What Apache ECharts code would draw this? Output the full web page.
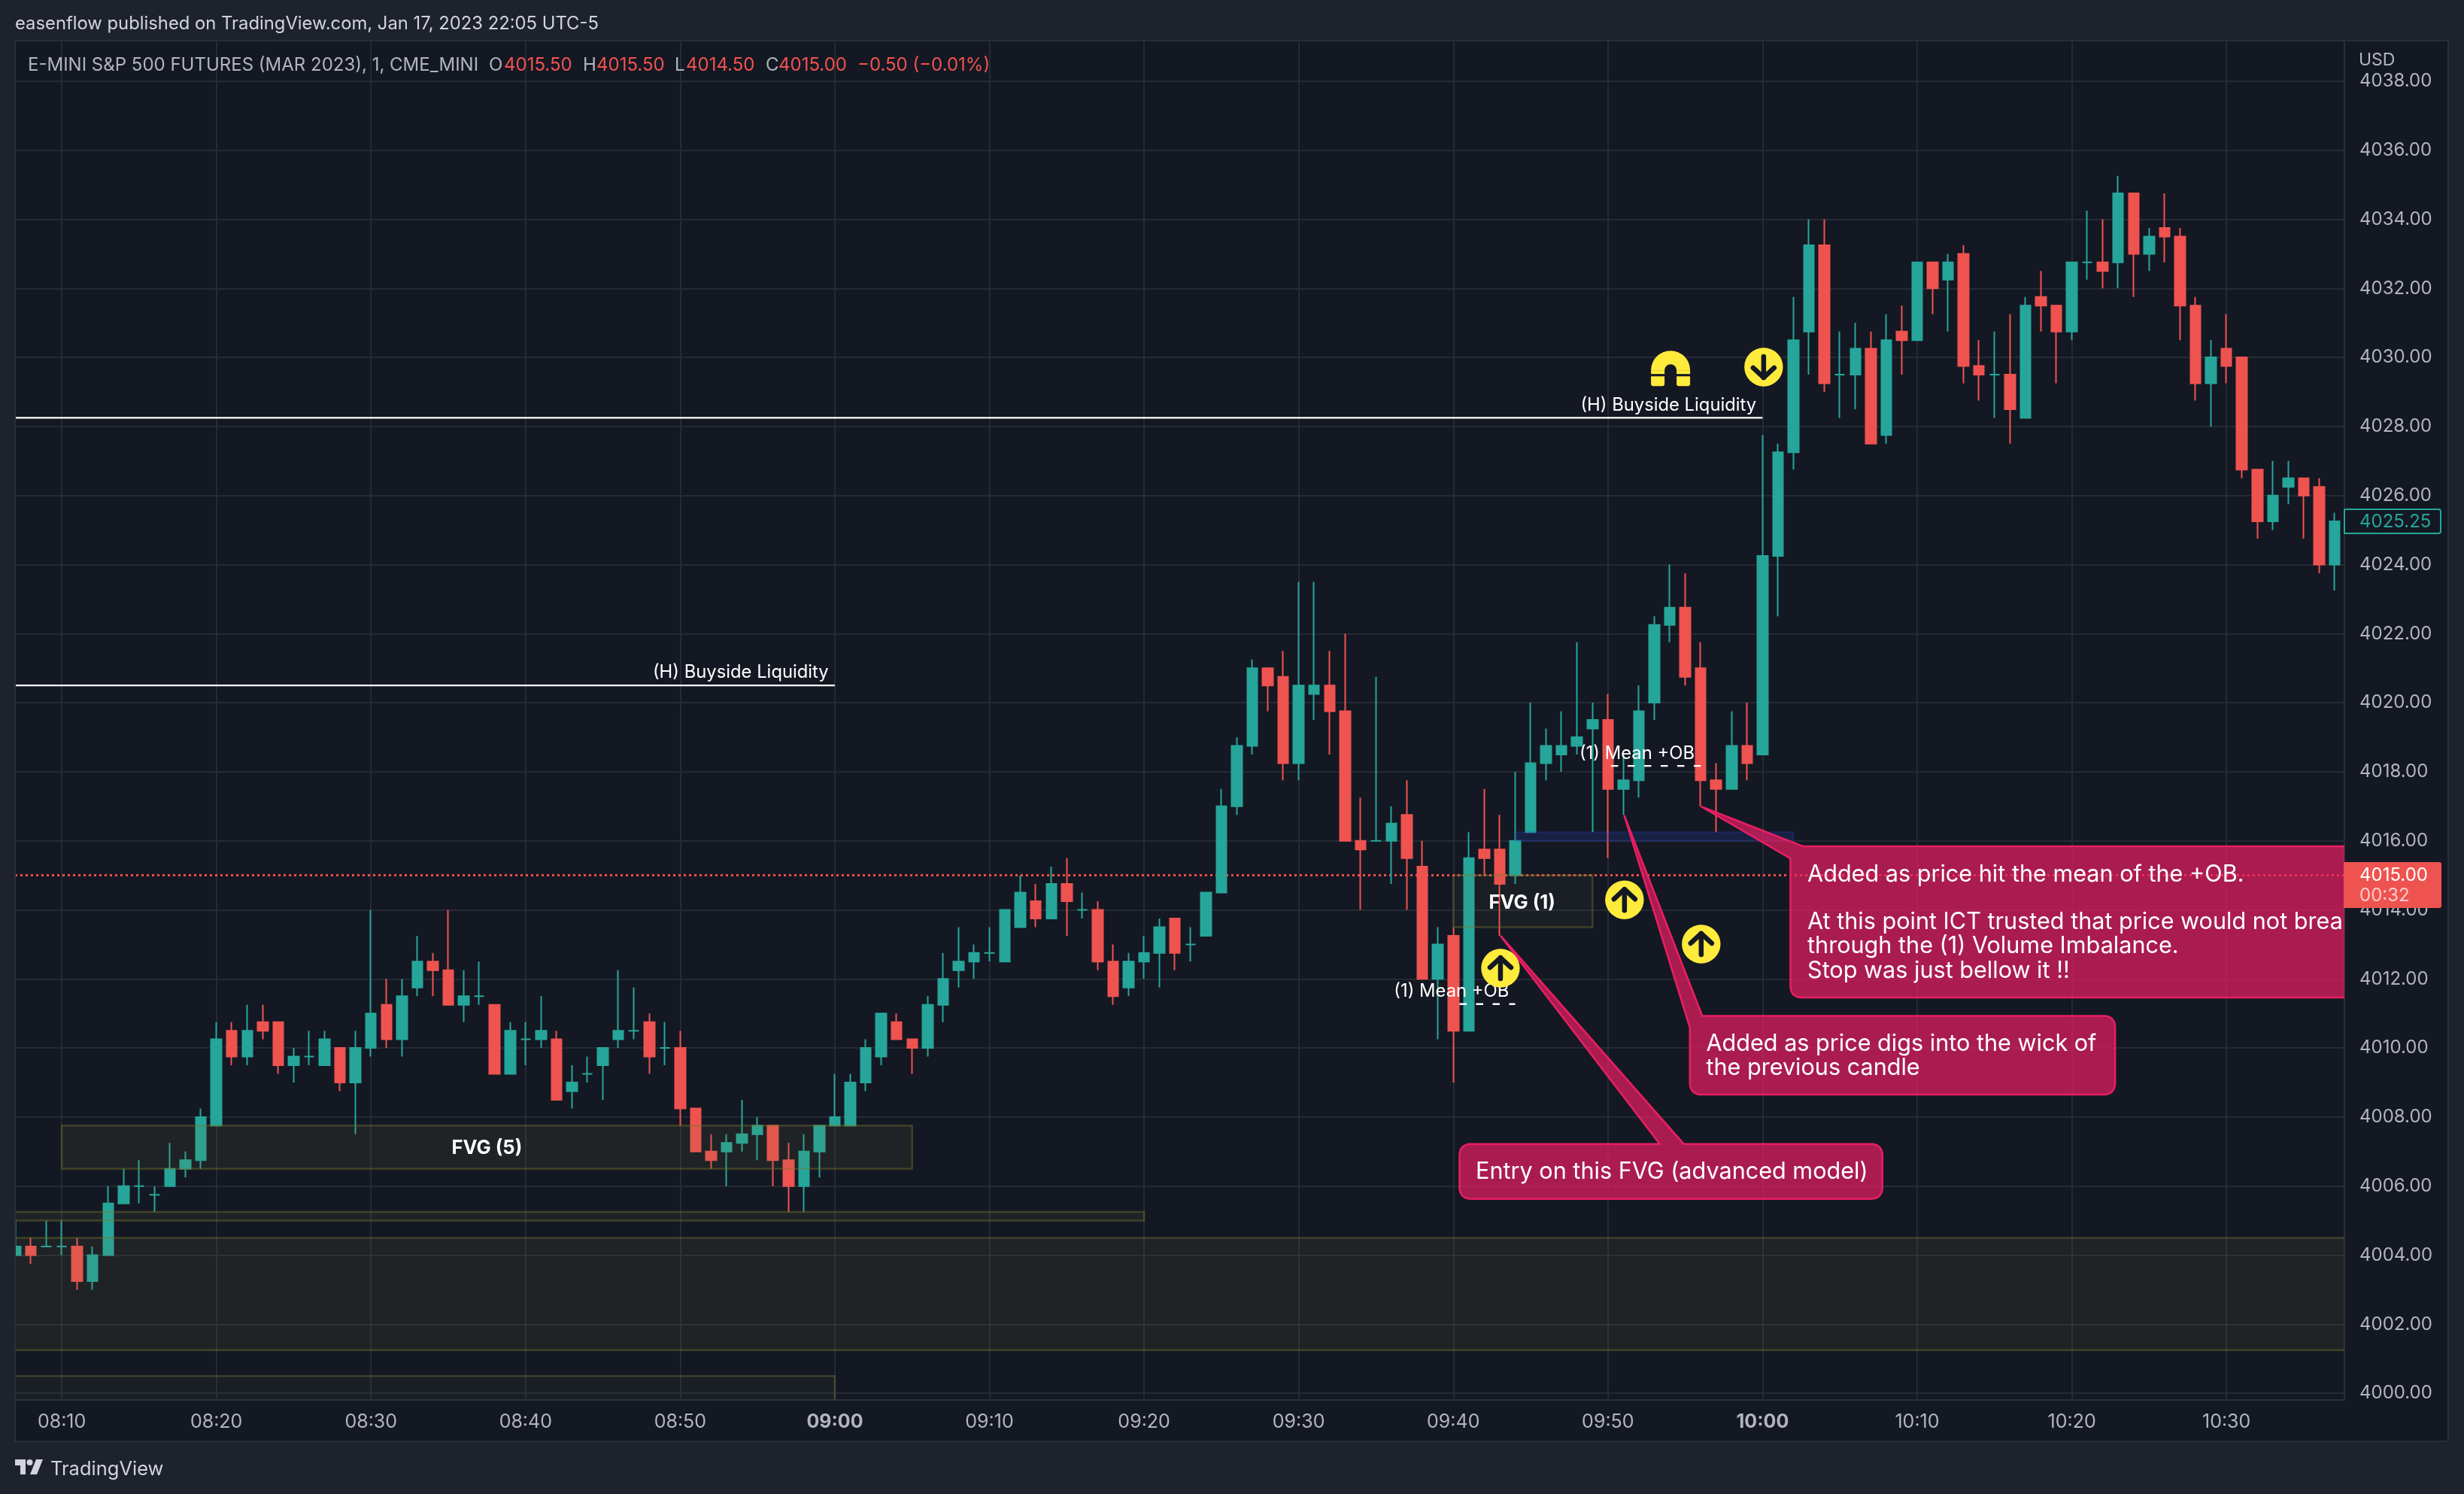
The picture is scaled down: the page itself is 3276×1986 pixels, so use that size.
<!DOCTYPE html>
<html>
<head>
<meta charset="utf-8">
<style>html,body{margin:0;padding:0;background:#1e222d}#c{width:3276px;height:1986px}</style>
<script src="https://cdn.jsdelivr.net/npm/echarts@6/dist/echarts.min.js"></script>
</head>
<body>
<div id="c"></div>
<script>
// Minutes after midnight of the first bar (08:07), one bar per minute.
const firstMinute = 487;
const opens = [4004,4004.25,4004.25,4004.25,4004.25,4003.25,4004,4005.5,4006,4005.75,4006,4006.5,4006.75,4007.75,4010.5,4009.75,4010.75,4010.75,4009.5,4009.75,4009.5,4010,4009,4010,4011.25,4010.25,4011.75,4012.5,4012.25,4011.25,4011.5,4011.25,4009.25,4010.25,4010.25,4010.25,4008.75,4009.25,4009.5,4010.25,4010.5,4010.75,4010,4010,4008.25,4007,4007,4007.25,4007.5,4007.75,4006.75,4006,4007,
4007.75,4007.75,4009,4009.75,4010.75,4010.25,4010,4011.25,4012.25,4012.5,4012.75,4012.5,4013.5,4014.25,4013.75,4014.75,4014,4014,4012.5,4011.75,4012.5,4012.75,4013.75,4013,4013.25,4014.5,4017,4018.75,4021,4020.75,4018.25,4020.25,4020.5,4019.75,4016,4016,4016,4016.75,4015.25,
4012,4013.25,4010.5,4015.75,4015.75,4015,4016.25,4018.25,4018.5,4018.75,4019.25,4019.5,4017.5,4017.75,4020,4022.25,4022.75,4021,4017.75,4017.5,4018.75,
4018.5,4024.25,4027.25,4030.75,4033.25,4029.5,4029.5,4030.25,4027.75,4030.75,4030.5,4032.75,4032.25,4033,4029.75,4029.5,4029.5,4028.25,4031.75,4031.5,4030.75,4032.75,4032.75,4032.75,4034.75,4033,4033.75,4033.5,4031.5,4029.25,4030.25,4030,4026.75,4025.25,4026.25,4026.5,4026.25,4024];
const closes = [4004.25,4004,4004.25,4004.25,4003.25,4004,4005.5,4006,4006,4005.75,4006.5,4006.75,4008,4010.25,4009.75,4010.5,4010.5,4009.5,4009.75,4009.75,4010.25,4009,4010,4011,4010.25,4011.5,4012.5,4012.25,4011.25,4011.5,4011.5,4009.25,4010.5,4010.25,4010.5,4008.5,4009,4009.25,4010,4010.5,4010.5,4009.75,4010,4008.25,4007,4006.75,4007.25,4007.5,4007.75,4006.75,4006,4007,4007.75,
4008,4009,4010,4011,4010.25,4010,4011.25,4012,4012.5,4012.75,4012.75,4014,4014.5,4013.75,4014.75,4014.25,4014,4012.5,4011.5,4012.5,4012.75,4013.5,4012.75,4013,4014.5,4017,4018.75,4021,4020.5,4018.25,4020.5,4020.5,4019.75,4016,4015.75,4016,4016.5,4015.5,4012,
4013,4010.5,4015.5,4015.5,4014.75,4016,4018.25,4018.75,4018.75,4019,4019.5,4017.5,4017.75,4019.75,4022.25,4022.75,4020.75,4017.75,4017.5,4018.75,4018.25,
4024.25,4027.25,4030.5,4033.25,4029.25,4029.5,4030.25,4027.5,4030.5,4030.5,4032.75,4032,4032.75,4029.75,4029.5,4029.5,4028.5,4031.5,4031.5,4030.75,4032.75,4032.75,4032.5,4034.75,4033,4033.5,4033.5,4031.5,4029.25,4030,4029.75,4026.75,4025.25,4026,4026.5,4026,4024,4025.25];
const highs = [4005,4004.5,4005,4005,4004.5,4004.25,4006,4006.5,4006.75,4006,4007.25,4007,4008.25,4010.75,4010.75,4011.25,4011.25,4010.75,4010,4010.5,4010.5,4010,4010.5,4014,4012,4012,4013.25,4012.75,4014,4012.25,4012.5,4011.25,4010.75,4010.75,4011.5,4010.5,4009.5,4009.75,4010,4012.25,4011.75,4011,4010.75,4010.5,4008.25,4007.5,4007.5,4008.5,4008,4007.75,4007.25,4007.5,4007.75,
4009.25,4009.25,4010.25,4011,4011,4010.25,4011.5,4012.75,4013.5,4013,4013.5,4014,4015,4014.75,4015.25,4015.5,4014.5,4014.25,4013,4012.75,4013.25,4013.75,4013.75,4013.5,4014.5,4017.5,4019,4021.25,4021,4021.5,4023.5,4023.5,4021.5,4022,4017.25,4020.75,4017,4017.75,4016,
4013.5,4013.5,4016.25,4017.5,4016.75,4018,4020,4019.25,4019.75,4021.75,4020,4020.25,4018.5,4020.5,4022.5,4024,4023.75,4021.75,4018.25,4019.75,4020,
4027.75,4027.5,4031.75,4034,4034,4030.75,4031,4030.75,4031.25,4031.5,4032.75,4032.75,4033,4033.25,4030.5,4030.75,4031.25,4031.75,4032.5,4031.5,4032.75,4034.25,4034,4035.25,4034.75,4033.75,4034.75,4033.75,4031.75,4030.5,4031.25,4030,4026.75,4027,4027,4026.5,4026.5,4025.5];
const lows = [4004,4003.75,4004.25,4004,4003,4003,4004,4005.5,4005.5,4005.25,4006,4006.25,4006.5,4007.75,4009.5,4009.5,4010.25,4009.25,4009,4009.5,4009.5,4008.75,4007.5,4009.75,4010,4009.75,4011.5,4011.5,4011.25,4010.75,4011.25,4009.25,4009.25,4009.5,4010,4008.5,4008.25,4009,4008.5,4010,4010.25,4009.25,4009.5,4007.75,4007,4006.5,4006,4007,4006.75,4006,4005.25,4005.25,4006.25,
4007.75,4007.75,4008.75,4009.5,4010.25,4009.25,4009.75,4010.75,4011.75,4012,4012.5,4012.5,4013.5,4013.5,4013.75,4013.25,4013.75,4012.25,4011.25,4011.5,4012,4011.75,4012.25,4012.5,4013.25,4014.5,4016.75,4018.5,4019.75,4017.75,4017.75,4019.5,4018.5,4016,4014,4016,4014.75,4014,4012,
4010.25,4009,4010.5,4015,4013.25,4014.75,4016.25,4017.75,4018,4018.5,4016.25,4015.5,4016.75,4017.25,4019.5,4021.75,4020.5,4017,4016.25,4017.5,4017.75,
4018.5,4022.5,4026.75,4029.5,4029,4028.25,4028.5,4027.5,4027.5,4029.5,4030.5,4031.25,4030.75,4029.25,4028.75,4028.25,4027.5,4028.25,4030.75,4029.25,4030.5,4032.25,4032,4032,4031.75,4032.5,4032.75,4030.5,4028.75,4028,4029.25,4026.5,4024.75,4025,4025.75,4024.75,4023.75,4023.25];

// Axis ticks
const timeTickValues = [490,500,510,520,530,540,550,560,570,580,590,600,610,620,630];
const timeTickLabels = ['08:10','08:20','08:30','08:40','08:50','09:00','09:10','09:20','09:30','09:40','09:50','10:00','10:10','10:20','10:30'];
const boldTimeLabels = ['09:00','10:00'];
const priceTickValues = [4000,4002,4004,4006,4008,4010,4012,4014,4016,4018,4020,4022,4024,4026,4028,4030,4032,4034,4036,4038];

// Zones: [fromMinute, topPrice, toMinute, bottomPrice]
const oliveZones = [
  [490,4007.75,545,4006.5],
  [470,4005.25,560,4005],
  [470,4004.5,660,4001.25],
  [470,4000.5,540,3990],
  [580,4015,589,4013.5]
];
const blueZones = [[584,4016.25,602,4016]];

// Level lines: [fromMinute, toMinute, price]
const solidLevels = [[470,600,4028.25],[470,540,4020.5]];
const dashedLevels = [[590.2,596,4018.17],[580.4,584,4011.27]];

// Callout outlines: [minute, price, rounded?]
const calloutA = [[596,4017,0],[602.6,4015.84,0],[660,4015.84,0],[660,4011.46,0],[601.8,4011.46,1],[601.8,4015.49,0]];
const calloutB = [[591.05,4016.74,0],[596.1,4010.93,0],[622.8,4010.93,1],[622.8,4008.65,1],[595.3,4008.65,1],[595.3,4010.59,0]];
const calloutC = [[583.05,4013.25,0],[594.9,4007.22,0],[607.75,4007.22,1],[607.75,4005.63,1],[580.4,4005.63,1],[580.4,4007.22,1],[593.35,4007.22,0]];
const callouts = [calloutC, calloutB, calloutA];

// Texts on the chart: [minute, price, text]
const calloutTexts = [
  [581.45,4006.44,'Entry on this FVG (advanced model)'],
  [596.35,4010.15,'Added as price digs into the wick of'],
  [596.35,4009.45,'the previous candle'],
  [602.9,4015.05,'Added as price hit the mean of the +OB.'],
  [602.9,4013.67,'At this point ICT trusted that price would not break'],
  [602.9,4012.99,'through the (1) Volume Imbalance.'],
  [602.9,4012.27,'Stop was just bellow it !!']
];
const noteTexts = [
  [539.6,4020.92,'(H) Buyside Liquidity'],
  [599.6,4028.65,'(H) Buyside Liquidity'],
  [595.6,4018.56,'(1) Mean +OB'],
  [583.6,4011.68,'(1) Mean +OB']
];
const boldTexts = [
  [517.5,4007.12,'FVG (5)'],
  [584.45,4014.24,'FVG (1)']
];

// Arrow icons: [minute, price, direction]
const arrowIcons = [[583.05,4012.31,-1],[591.07,4014.29,-1],[596.03,4013.01,-1],[600.07,4029.72,1]];
const magnetIcons = [[594.05,4029.65]];

const lastPrice = 4015;

const UP = '#26a69a', DOWN = '#ef5350', PANEL = '#141823', OUTER = '#1e222d', GRID = '#262a35', MUTED = '#b2b5be';
const FONT = 'Inter, "Liberation Sans", sans-serif';
const candles = opens.map((o,i) => [firstMinute + i, o, closes[i], lows[i], highs[i]]);

function timeLabel(v){ const i = timeTickValues.indexOf(v); return i >= 0 ? timeTickLabels[i] : ''; }

function rowsOf(list){ return list.map((r,i) => [i, 4010]); }

function zoneSeries(list, fill, stroke, z){
  return {
    type:'custom', z, clip:true, silent:true, data:rowsOf(list),
    renderItem(params, api){
      const r = list[params.dataIndex];
      const a = api.coord([r[0], r[1]]), b = api.coord([r[2], r[3]]);
      return {type:'rect', shape:{x:a[0], y:a[1], width:b[0]-a[0], height:b[1]-a[1]}, style:{fill, stroke, lineWidth:2.5}};
    }
  };
}
function levelSeries(list, dash, z){
  return {
    type:'custom', z, clip:true, silent:true, data:rowsOf(list),
    renderItem(params, api){
      const r = list[params.dataIndex];
      const a = api.coord([r[0], r[2]]), b = api.coord([r[1], r[2]]);
      return {type:'line', shape:{x1:a[0], y1:a[1], x2:b[0], y2:b[1]}, style:{stroke:'#ffffff', lineWidth:2.4, lineDash:dash}};
    }
  };
}
function roundCorners(pts, radius){
  const out = [], n = pts.length;
  for (let i = 0; i < n; i++){
    const p = pts[i];
    if (!p[2]) { out.push([p[0],p[1]]); continue; }
    const prev = pts[(i+n-1)%n], next = pts[(i+1)%n];
    const d1 = Math.hypot(prev[0]-p[0], prev[1]-p[1]), d2 = Math.hypot(next[0]-p[0], next[1]-p[1]);
    const r = Math.min(radius, d1/2, d2/2);
    const s = [p[0]+(prev[0]-p[0])*r/d1, p[1]+(prev[1]-p[1])*r/d1];
    const e = [p[0]+(next[0]-p[0])*r/d2, p[1]+(next[1]-p[1])*r/d2];
    for (let k = 0; k <= 10; k++){
      const t = k/10, u = 1-t;
      out.push([u*u*s[0]+2*u*t*p[0]+t*t*e[0], u*u*s[1]+2*u*t*p[1]+t*t*e[1]]);
    }
  }
  return out;
}
function textSeries(list, font, z, align){
  return {
    type:'custom', z, clip:true, silent:true, data:rowsOf(list),
    renderItem(params, api){
      const r = list[params.dataIndex];
      const a = api.coord([r[0], r[1]]);
      return {type:'text', x:a[0], y:a[1]+1.5, style:{text:r[2], fill:'#ffffff', font, align, verticalAlign:'middle'}};
    }
  };
}
const hdr = (x, text, fill) => ({type:'text', z:50, x, y:87, style:{text, fill, font:'24px '+FONT, verticalAlign:'middle'}});

const option = {
  animation:false,
  backgroundColor:OUTER,
  grid:{left:20, right:159, top:54, bottom:125, show:false},
  xAxis:{
    type:'value', min:486.98, max:637.63,
    axisLine:{show:true, onZero:false, lineStyle:{color:'#2a2e39', width:2}},
    axisTick:{show:false, customValues:timeTickValues},
    splitLine:{show:true, lineStyle:{color:GRID, width:2}},
    axisLabel:{
      customValues:timeTickValues, color:MUTED, fontFamily:'Inter', fontSize:25, margin:29, verticalAlign:'middle',
      formatter(v){ const s = timeLabel(v); return boldTimeLabels.includes(s) ? '{b|'+s+'}' : s; },
      rich:{b:{fontWeight:'bold', color:MUTED, fontFamily:'Inter', fontSize:25}}
    }
  },
  yAxis:{
    type:'value', position:'right', min:3999.806, max:4039.174, scale:true,
    axisLine:{show:true, onZero:false, lineStyle:{color:'#2a2e39', width:2}},
    axisTick:{show:false, customValues:priceTickValues},
    splitLine:{show:true, lineStyle:{color:GRID, width:2}},
    axisLabel:{customValues:priceTickValues, color:MUTED, fontFamily:'Inter', fontSize:24, margin:20, align:'left', padding:[7,0,0,0], formatter:v => v.toFixed(2)}
  },
  series:[
    {
      type:'candlestick', z:2, silent:true, barWidth:14, data:candles, encode:{x:0, y:[1,2,3,4]},
      itemStyle:{color:UP, color0:DOWN, borderColor:UP, borderColor0:DOWN, borderColorDoji:UP, borderWidth:2},
      markLine:{silent:true, symbol:'none', z:2, label:{show:false}, animation:false, precision:2,
        lineStyle:{color:'#ff4d4a', type:[3,4], width:3, opacity:1},
        data:[{yAxis:lastPrice}]}
    },
    zoneSeries(oliveZones.slice(0,3), 'rgba(130,125,60,0.11)', 'rgba(120,120,45,0.42)', 3),
    zoneSeries(oliveZones.slice(3,5), 'rgba(120,120,70,0.07)', 'rgba(120,120,45,0.42)', 3),
    zoneSeries(blueZones, 'rgba(41,70,200,0.2)', 'rgba(41,70,200,0.2)', 3),
    levelSeries(solidLevels, null, 4),
    levelSeries(dashedLevels, [9.5,12.5], 4),
    {
      type:'custom', z:5, clip:true, silent:true, data:rowsOf(callouts),
      renderItem(params, api){
        const v = callouts[params.dataIndex];
        const pts = v.map(r => { const a = api.coord([r[0], r[1]]); return [a[0], a[1], r[2]]; });
        return {type:'polygon', shape:{points:roundCorners(pts, 16)}, style:{fill:'rgba(233,30,99,0.7)', stroke:'#e91e63', lineWidth:2.5}};
      }
    },
    textSeries(calloutTexts, '30.6px '+FONT, 6, 'left'),
    textSeries(noteTexts, '23.8px '+FONT, 6, 'right'),
    textSeries(boldTexts, 'bold 25.5px '+FONT, 6, 'center'),
    {
      type:'custom', z:7, clip:true, silent:true, data:rowsOf(arrowIcons),
      renderItem(params, api){
        const r = arrowIcons[params.dataIndex];
        const c = api.coord([r[0], r[1]]), d = r[2];
        const ink = {stroke:PANEL, lineWidth:6.5, lineCap:'round', lineJoin:'round', fill:null};
        return {type:'group', children:[
          {type:'circle', shape:{cx:c[0], cy:c[1], r:25.7}, style:{fill:'#ffeb3b'}},
          {type:'polyline', shape:{points:[[c[0], c[1]-14*d],[c[0], c[1]+14*d]]}, style:ink},
          {type:'polyline', shape:{points:[[c[0]-14, c[1]+1*d],[c[0], c[1]+14*d],[c[0]+14, c[1]+1*d]]}, style:ink}
        ]};
      }
    },
    {
      type:'custom', z:7, clip:true, silent:true, data:rowsOf(magnetIcons),
      renderItem(params, api){
        const r = magnetIcons[params.dataIndex];
        const c = api.coord([r[0], r[1]]);
        const cx = c[0], cy = c[1], y = {fill:'#ffeb3b'};
        return {type:'group', children:[
          {type:'sector', shape:{cx, cy:cy+1, r:26, r0:8, startAngle:Math.PI, endAngle:2*Math.PI, clockwise:true}, style:y},
          {type:'rect', shape:{x:cx-26, y:cy+1, width:18, height:5}, style:y},
          {type:'rect', shape:{x:cx+8, y:cy+1, width:18, height:5}, style:y},
          {type:'rect', shape:{x:cx-26, y:cy+9, width:18, height:13, r:[0,0,3,3]}, style:y},
          {type:'rect', shape:{x:cx+8, y:cy+9, width:18, height:13, r:[0,0,3,3]}, style:y}
        ]};
      }
    }
  ],
  graphic:{elements:[
    {type:'rect', z:-10, silent:true, shape:{x:20, y:54, width:3235, height:1862}, style:{fill:PANEL, stroke:'#2a2e39', lineWidth:2}},
    {type:'rect', z:40, silent:true, shape:{x:0, y:54, width:19, height:1862}, style:{fill:OUTER}},
    {type:'line', z:41, silent:true, shape:{x1:20, y1:54, x2:20, y2:1916}, style:{stroke:'#2a2e39', lineWidth:2}},
    {type:'text', z:50, x:20, y:32, style:{text:'easenflow published on TradingView.com, Jan 17, 2023 22:05 UTC-5', fill:'#d1d4dc', font:'23.8px '+FONT, verticalAlign:'middle'}},
    hdr(37,'E-MINI S&P 500 FUTURES (MAR 2023), 1, CME_MINI',MUTED),
    hdr(650,'O',MUTED), hdr(670,'4015.50',DOWN),
    hdr(775,'H',MUTED), hdr(793,'4015.50',DOWN),
    hdr(897,'L',MUTED), hdr(912,'4014.50',DOWN),
    hdr(1018,'C',MUTED), hdr(1035,'4015.00',DOWN),
    hdr(1140,'\u22120.50 (\u22120.01%)',DOWN),
    {type:'text', z:50, x:3136, y:80, style:{text:'USD', fill:MUTED, font:'23px '+FONT, verticalAlign:'middle'}},
    {type:'rect', z:50, shape:{x:3117, y:677, width:128, height:32, r:[0,3,3,0]}, style:{fill:PANEL, stroke:UP, lineWidth:2}},
    {type:'text', z:51, x:3137, y:694, style:{text:'4025.25', fill:UP, font:'24px '+FONT, verticalAlign:'middle'}},
    {type:'rect', z:50, shape:{x:3116, y:1146, width:130, height:61, r:[0,3,3,0]}, style:{fill:DOWN}},
    {type:'text', z:51, x:3137, y:1164, style:{text:'4015.00', fill:'#ffffff', font:'24px '+FONT, verticalAlign:'middle'}},
    {type:'text', z:51, x:3137, y:1191, style:{text:'00:32', fill:'rgba(255,255,255,0.7)', font:'24px '+FONT, verticalAlign:'middle'}},
    {type:'polygon', z:50, shape:{points:[[20,1940],[34,1940],[34,1960],[27,1960],[27,1948],[20,1948]]}, style:{fill:'#d1d4dc'}},
    {type:'circle', z:50, shape:{cx:39.5,cy:1944,r:4}, style:{fill:'#d1d4dc'}},
    {type:'polygon', z:50, shape:{points:[[48,1940],[57,1940],[49,1960],[40,1960]]}, style:{fill:'#d1d4dc'}},
    {type:'text', z:50, x:67, y:1953, style:{text:'TradingView', fill:'#d1d4dc', font:'25.5px '+FONT, verticalAlign:'middle'}}
  ]}
};
const chart = echarts.init(document.getElementById('c'), null, {renderer:'canvas', width:3276, height:1986, devicePixelRatio:1});
chart.setOption(option);
</script>
</body>
</html>
